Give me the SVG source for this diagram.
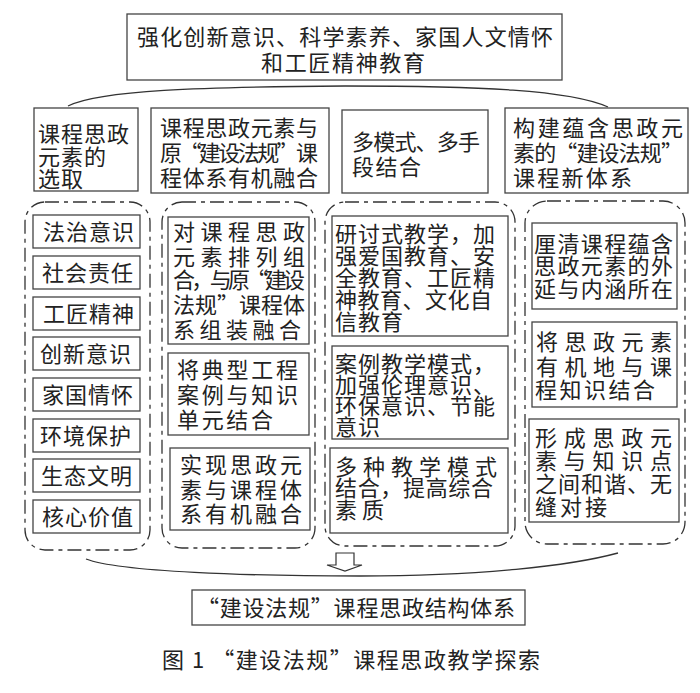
<svg xmlns="http://www.w3.org/2000/svg" width="700" height="693" viewBox="0 0 700 693">
<style>
text{font-family:"Noto Sans CJK SC","Noto Sans CJK TC",sans-serif;font-size:22px;fill:#222;}
.box{fill:#fff;stroke:#444;stroke-width:1.3;}
.cont{fill:none;stroke:#333;stroke-width:1.3;stroke-dasharray:14 5 4 5;}
.brace{fill:none;stroke:#333;stroke-width:1.3;}
</style>
<rect width="700" height="693" fill="#fff"/>

<g id="top">
<rect class="box" x="127" y="14" width="435" height="66"/>
<text><tspan x="137" y="45" textLength="416" lengthAdjust="spacing">强化创新意识、科学素养、家国人文情怀</tspan><tspan x="261" y="71" textLength="164" lengthAdjust="spacing">和工匠精神教育</tspan></text>
</g>

<g id="connectors">
<path class="brace" d="M68,106 C100,90 200,87 345,86 C480,86 570,90 608,107"/>
<path class="brace" d="M86,559 C120,572 250,576 360,576 C480,576 570,566 618,553"/>
<polygon points="336,553 354,553 354,565 362,565 345,571 327,565 336,565" fill="#fff" stroke="#333" stroke-width="1.2"/>
</g>

<g id="h1">
<rect class="box" x="34" y="108" width="104" height="83"/>
<text><tspan x="38" y="142" textLength="91" lengthAdjust="spacing">课程思政</tspan><tspan x="38" y="165" textLength="68" lengthAdjust="spacing">元素的</tspan><tspan x="38" y="187" textLength="45" lengthAdjust="spacing">选取</tspan></text>
</g>
<g id="h2">
<rect class="box" x="151" y="108" width="178" height="85"/>
<text><tspan x="160" y="136" textLength="158" lengthAdjust="spacing">课程思政元素与</tspan><tspan x="160" y="161" textLength="158" lengthAdjust="spacing">原“建设法规”课</tspan><tspan x="160" y="186" textLength="158" lengthAdjust="spacing">程体系有机融合</tspan></text>
</g>
<g id="h3">
<rect class="box" x="342" y="110" width="146" height="83"/>
<text><tspan x="352" y="150" textLength="128" lengthAdjust="spacing">多模式、多手</tspan><tspan x="352" y="175" textLength="69" lengthAdjust="spacing">段结合</tspan></text>
</g>
<g id="h4">
<rect class="box" x="505" y="108" width="183" height="85"/>
<text><tspan x="513" y="136" textLength="170" lengthAdjust="spacing">构建蕴含思政元</tspan><tspan x="513" y="161" textLength="170" lengthAdjust="spacing">素的“建设法规”</tspan><tspan x="513" y="186" textLength="119" lengthAdjust="spacing">课程新体系</tspan></text>
</g>

<g id="c1">
<rect class="cont" x="25" y="202" width="125" height="348" rx="20"/>
<g id="c1a"><rect class="box" x="33" y="215" width="107" height="33"/><text x="43" y="240" textLength="91" lengthAdjust="spacing">法治意识</text></g>
<g id="c1b"><rect class="box" x="33" y="256" width="107" height="33"/><text x="42" y="281" textLength="91" lengthAdjust="spacing">社会责任</text></g>
<g id="c1c"><rect class="box" x="33" y="297" width="107" height="33"/><text x="43" y="322" textLength="91" lengthAdjust="spacing">工匠精神</text></g>
<g id="c1d"><rect class="box" x="33" y="337" width="107" height="33"/><text x="40" y="362" textLength="91" lengthAdjust="spacing">创新意识</text></g>
<g id="c1e"><rect class="box" x="33" y="378" width="107" height="33"/><text x="42" y="403" textLength="91" lengthAdjust="spacing">家国情怀</text></g>
<g id="c1f"><rect class="box" x="33" y="419" width="107" height="33"/><text x="40" y="444" textLength="91" lengthAdjust="spacing">环境保护</text></g>
<g id="c1g"><rect class="box" x="33" y="459" width="107" height="33"/><text x="41" y="484" textLength="91" lengthAdjust="spacing">生态文明</text></g>
<g id="c1h"><rect class="box" x="33" y="500" width="107" height="33"/><text x="42" y="525" textLength="91" lengthAdjust="spacing">核心价值</text></g>
</g>

<g id="c2">
<rect class="cont" x="162" y="202" width="153" height="346" rx="20"/>
<g id="c2a">
<rect class="box" x="168" y="217" width="141" height="127"/>
<text><tspan x="173" y="240" textLength="132" lengthAdjust="spacing">对课程思政</tspan><tspan x="173" y="265" textLength="132" lengthAdjust="spacing">元素排列组</tspan><tspan x="173" y="288" textLength="132" lengthAdjust="spacing">合，与原“建设</tspan><tspan x="173" y="313" textLength="132" lengthAdjust="spacing">法规”课程体</tspan><tspan x="173" y="338" textLength="128" lengthAdjust="spacing">系组装融合</tspan></text>
</g>
<g id="c2b">
<rect class="box" x="168" y="353" width="141" height="82"/>
<text><tspan x="177" y="378" textLength="121" lengthAdjust="spacing">将典型工程</tspan><tspan x="177" y="403" textLength="121" lengthAdjust="spacing">案例与知识</tspan><tspan x="177" y="428" textLength="96" lengthAdjust="spacing">单元结合</tspan></text>
</g>
<g id="c2c">
<rect class="box" x="170" y="448" width="140" height="82"/>
<text><tspan x="180" y="473" textLength="122" lengthAdjust="spacing">实现思政元</tspan><tspan x="180" y="498" textLength="122" lengthAdjust="spacing">素与课程体</tspan><tspan x="180" y="522" textLength="122" lengthAdjust="spacing">系有机融合</tspan></text>
</g>
</g>

<g id="c3">
<rect class="cont" x="325" y="202" width="190" height="344" rx="20"/>
<g id="c3a">
<rect class="box" x="332" y="216" width="176" height="120"/>
<text><tspan x="335" y="242" textLength="160" lengthAdjust="spacing">研讨式教学，加</tspan><tspan x="335" y="264" textLength="160" lengthAdjust="spacing">强爱国教育、安</tspan><tspan x="335" y="286" textLength="160" lengthAdjust="spacing">全教育、工匠精</tspan><tspan x="335" y="308" textLength="157" lengthAdjust="spacing">神教育、文化自</tspan><tspan x="335" y="330" textLength="68" lengthAdjust="spacing">信教育</tspan></text>
</g>
<g id="c3b">
<rect class="box" x="332" y="346" width="176" height="93"/>
<text><tspan x="335" y="372" textLength="160" lengthAdjust="spacing">案例教学模式，</tspan><tspan x="335" y="393" textLength="160" lengthAdjust="spacing">加强伦理意识、</tspan><tspan x="335" y="414" textLength="160" lengthAdjust="spacing">环保意识、节能</tspan><tspan x="335" y="435" textLength="45" lengthAdjust="spacing">意识</tspan></text>
</g>
<g id="c3c">
<rect class="box" x="330" y="448" width="178" height="85"/>
<text><tspan x="335" y="475" textLength="162" lengthAdjust="spacing">多种教学模式</tspan><tspan x="335" y="496" textLength="158" lengthAdjust="spacing">结合，提高综合</tspan><tspan x="335" y="518" textLength="49" lengthAdjust="spacing">素质</tspan></text>
</g>
</g>

<g id="c4">
<rect class="cont" x="525" y="201" width="160" height="343" rx="22"/>
<g id="c4a">
<rect class="box" x="532" y="223" width="145" height="86"/>
<text><tspan x="534" y="252" textLength="139" lengthAdjust="spacing">厘清课程蕴含</tspan><tspan x="534" y="274" textLength="139" lengthAdjust="spacing">思政元素的外</tspan><tspan x="534" y="297" textLength="139" lengthAdjust="spacing">延与内涵所在</tspan></text>
</g>
<g id="c4b">
<rect class="box" x="532" y="322" width="145" height="85"/>
<text><tspan x="536" y="350" textLength="136" lengthAdjust="spacing">将思政元素</tspan><tspan x="536" y="375" textLength="136" lengthAdjust="spacing">有机地与课</tspan><tspan x="535" y="398" textLength="120" lengthAdjust="spacing">程知识结合</tspan></text>
</g>
<g id="c4c">
<rect class="box" x="529" y="419" width="150" height="103"/>
<text><tspan x="535" y="446" textLength="137" lengthAdjust="spacing">形成思政元</tspan><tspan x="535" y="469" textLength="137" lengthAdjust="spacing">素与知识点</tspan><tspan x="535" y="492" textLength="137" lengthAdjust="spacing">之间和谐、无</tspan><tspan x="535" y="515" textLength="72" lengthAdjust="spacing">缝对接</tspan></text>
</g>
</g>

<g id="result">
<rect class="box" x="192" y="590" width="333" height="35"/>
<text x="197" y="616" textLength="318" lengthAdjust="spacing">“建设法规”课程思政结构体系</text>
</g>

<g id="caption">
<text x="162" y="668" textLength="378" lengthAdjust="spacing">图 1 “建设法规”课程思政教学探索</text>
</g>
</svg>
